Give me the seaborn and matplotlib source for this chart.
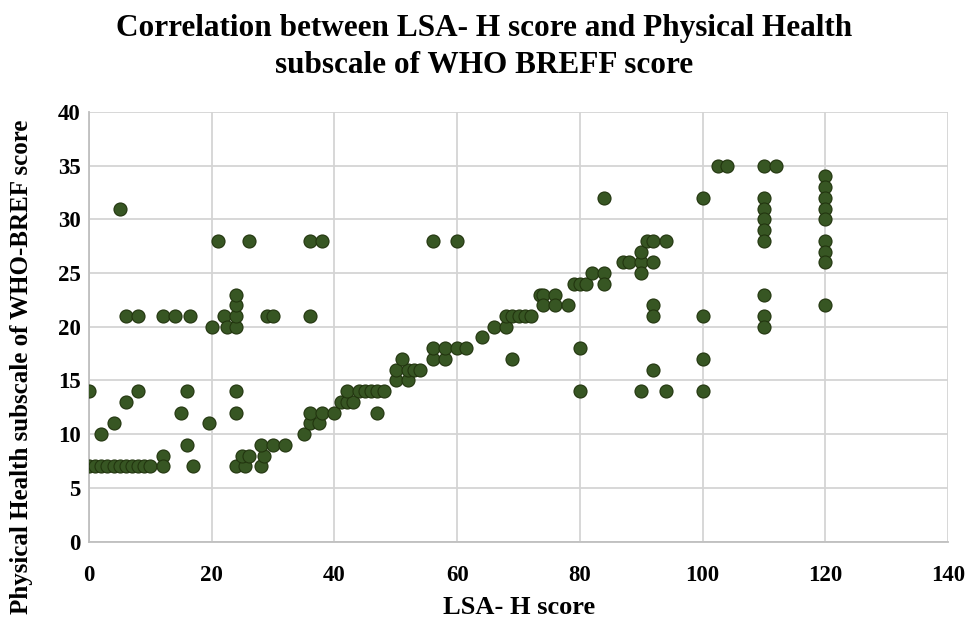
import matplotlib
matplotlib.use("Agg")
import matplotlib.pyplot as plt
import seaborn as sns
import pandas as pd

# LSA-H score (x) and Physical Health subscale of WHO-BREF score (y)
lsa_h = [
    0, 0, 1, 2, 3, 4, 5, 6, 7, 8, 9, 10,
    2, 4, 6, 8, 5, 6, 8, 12, 14, 16.5,
    12, 12, 16, 17, 15, 16, 19.5, 20, 22, 22.5, 24, 24, 24, 24, 24, 24, 21, 26,
    24, 25.5, 28, 25, 26, 28.5, 28, 30, 32, 29, 30,
    35, 36, 37.5, 36, 38, 40, 36, 36, 38,
    41, 42, 43, 42, 44, 45, 46, 47, 48, 47,
    50, 52, 50, 52, 53, 54, 51,
    56, 56, 58, 58, 60, 61.5, 56, 60,
    64, 66, 68, 68, 69, 70, 71, 72, 69,
    73.5, 74, 76, 74, 76, 78,
    79, 80, 81, 82, 84, 84, 84, 80, 80,
    87, 88, 90, 90, 90, 90, 91, 92, 94, 92, 92, 92, 92, 94,
    100, 100, 100, 100, 102.5, 104, 110, 112,
    110, 110, 110, 110, 110, 110, 110, 110,
    120, 120, 120, 120, 120, 120, 120, 120, 120,
]
physical = [
    14, 7, 7, 7, 7, 7, 7, 7, 7, 7, 7, 7,
    10, 11, 13, 14, 31, 21, 21, 21, 21, 21,
    8, 7, 9, 7, 12, 14, 11, 20, 21, 20, 20, 21, 22, 23, 14, 12, 28, 28,
    7, 7, 7, 8, 8, 8, 9, 9, 9, 21, 21,
    10, 11, 11, 12, 12, 12, 21, 28, 28,
    13, 13, 13, 14, 14, 14, 14, 14, 14, 12,
    15, 15, 16, 16, 16, 16, 17,
    17, 18, 17, 18, 18, 18, 28, 28,
    19, 20, 20, 21, 21, 21, 21, 21, 17,
    23, 23, 23, 22, 22, 22,
    24, 24, 24, 25, 25, 24, 32, 18, 14,
    26, 26, 26, 27, 25, 14, 28, 28, 28, 26, 22, 21, 16, 14,
    32, 21, 17, 14, 35, 35, 35, 35,
    32, 31, 30, 29, 28, 23, 21, 20,
    34, 33, 32, 31, 30, 28, 27, 26, 22,
]

title_text = "Correlation between LSA- H score and Physical Health\nsubscale of WHO BREFF score"
x_label = "LSA- H score"
y_label = "Physical Health subscale of WHO-BREF score"
x_ticks = [0, 20, 40, 60, 80, 100, 120, 140]
y_ticks = [0, 5, 10, 15, 20, 25, 30, 35, 40]

df = pd.DataFrame({"lsa": lsa_h, "phys": physical})

sns.set_style("white")
plt.rcParams["font.family"] = ["Liberation Serif", "DejaVu Serif"]
plt.rcParams["font.weight"] = "bold"
plt.rcParams["text.color"] = "black"
plt.rcParams["xtick.color"] = "black"
plt.rcParams["ytick.color"] = "black"

W, H = 968, 624
fig = plt.figure(figsize=(W / 100, H / 100), dpi=100)
ax = fig.add_axes([89 / W, 1 - 541.5 / H, (948 - 89) / W, (541.5 - 112) / H])

sns.scatterplot(data=df, x="lsa", y="phys", ax=ax, s=88, color="#375623",
                edgecolor="#22350f", linewidth=0.8, zorder=3, legend=False)

ax.set_xlim(0, 140)
ax.set_ylim(0, 40)
ax.set_xticks(x_ticks)
ax.set_yticks(y_ticks)
ax.grid(True, color="#d4d4d4", linewidth=1.3, zorder=0)
ax.set_axisbelow(True)
for side in ["top", "right"]:
    ax.spines[side].set_visible(False)
for side in ["left", "bottom"]:
    ax.spines[side].set_color("#bfbfbf")
    ax.spines[side].set_linewidth(1.3)

ax.tick_params(axis="both", length=0, labelsize=16.5, colors="black")
ax.tick_params(axis="x", pad=17)
ax.tick_params(axis="y", pad=6)
for lab in ax.get_xticklabels() + ax.get_yticklabels():
    lab.set_fontweight("bold")

ax.set_xlabel("")
ax.set_ylabel("")
fig.text(519 / W, 1 - 607 / H, x_label, ha="center", va="center",
         fontsize=19, fontweight="bold", color="black")
fig.text(22 / W, 1 - 367 / H, y_label, ha="center", va="center",
         rotation=90, fontsize=18, fontweight="bold", color="black")
fig.text(484 / W, 1 - 47 / H, title_text, ha="center", va="center",
         fontsize=22.5, fontweight="bold", linespacing=1.4, color="black")

fig.savefig("out.png", dpi=100)
